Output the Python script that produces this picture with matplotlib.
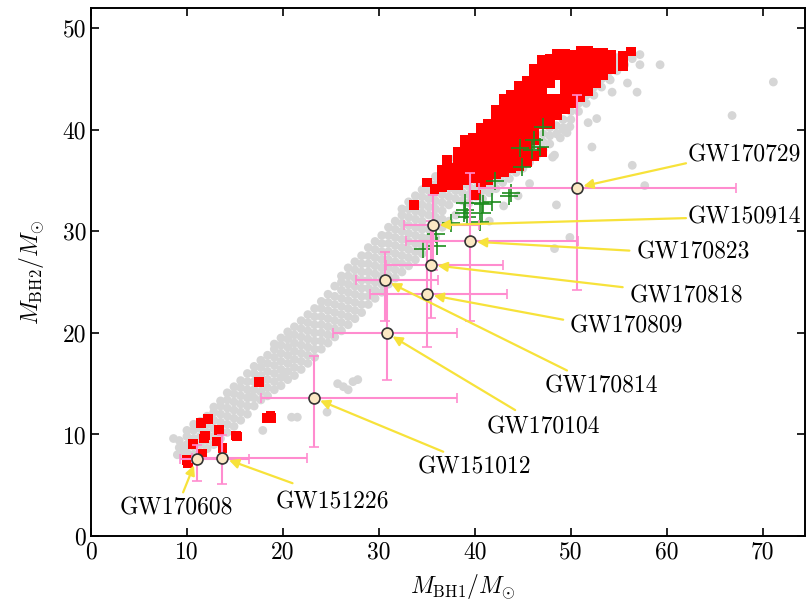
import matplotlib
matplotlib.use("Agg")
import numpy as np
import matplotlib.pyplot as plt

plt.rcParams['font.family'] = 'cmr10'
plt.rcParams['mathtext.fontset'] = 'cm'
plt.rcParams['axes.unicode_minus'] = False

# GWTC-1 events: median masses and 90% intervals
gw_names = ['GW170729', 'GW150914', 'GW170823', 'GW170818', 'GW170809',
            'GW170814', 'GW170104', 'GW151012', 'GW151226', 'GW170608']
gw_m1 = [50.6, 35.6, 39.5, 35.4, 35.0, 30.6, 30.8, 23.2, 13.7, 11.0]
gw_m1_lo = [10.2, 3.0, 6.7, 4.7, 5.9, 3.0, 5.6, 5.5, 3.2, 1.7]
gw_m1_hi = [16.6, 4.8, 11.2, 7.5, 8.3, 5.6, 7.3, 14.9, 8.8, 5.5]
gw_m2 = [34.3, 30.6, 29.0, 26.7, 23.8, 25.2, 20.0, 13.6, 7.7, 7.6]
gw_m2_lo = [10.1, 4.4, 7.8, 5.2, 5.2, 4.0, 4.6, 4.8, 2.6, 2.2]
gw_m2_hi = [9.1, 3.0, 6.7, 4.3, 5.1, 2.8, 4.9, 4.1, 2.2, 1.4]

# label placement (text anchor, arrow tail)
label_xy = [(62.2, 37.5), (62.2, 31.4), (56.9, 27.9), (56.1, 23.6), (49.9, 20.6),
            (47.3, 14.7), (41.2, 10.7), (34.0, 6.8), (19.2, 3.3), (3.0, 2.7)]
tail_xy = [(62.0, 36.7), (62.0, 31.3), (56.1, 28.1), (55.4, 24.5), (49.2, 21.3),
           (49.6, 16.3), (44.2, 12.4), (36.7, 8.3), (21.0, 5.2), (9.6, 4.3)]

# simulated population (grey)
grey_pts = [
    (9.2, 8.7), (9.2, 9.4), (9.6, 8.1),
    (10.0, 8.2), (10.0, 9.0), (10.0, 9.8), (10.0, 10.4),
    (10.7, 8.0), (10.7, 8.8), (10.7, 9.6), (10.7, 10.4), (10.7, 11.0),
    (11.4, 8.2), (11.4, 9.0), (11.4, 9.8), (11.4, 10.6), (11.4, 11.3),
    (12.1, 8.6), (12.1, 9.4), (12.1, 10.2), (12.1, 11.0), (12.1, 11.8),
    (12.8, 9.0), (12.8, 9.8), (12.8, 10.6), (12.8, 11.4), (12.8, 12.2), (12.8, 12.7),
    (13.5, 9.6), (13.5, 10.4), (13.5, 11.2), (13.5, 12.0), (13.5, 12.8), (13.5, 13.3),
    (14.2, 10.2), (14.2, 11.0), (14.2, 11.8), (14.2, 12.6), (14.2, 13.4), (14.2, 14.1),
    (14.9, 10.8), (14.9, 11.6), (14.9, 12.4), (14.9, 13.2), (14.9, 14.0), (14.9, 14.7),
    (15.6, 11.4), (15.6, 12.2), (15.6, 13.0), (15.6, 13.8), (15.6, 14.6), (15.6, 15.3),
    (16.3, 12.0), (16.3, 12.8), (16.3, 13.6), (16.3, 14.4), (16.3, 15.2), (16.3, 16.0),
    (17.0, 12.8), (17.0, 13.6), (17.0, 14.4), (17.0, 15.2), (17.0, 16.0), (17.0, 16.7),
    (17.7, 13.4), (17.7, 14.2), (17.7, 15.0), (17.7, 15.8), (17.7, 16.6), (17.7, 17.3),
    (18.4, 13.8), (18.4, 14.6), (18.4, 15.4), (18.4, 16.2), (18.4, 17.0), (18.4, 17.8),
    (19.1, 14.4), (19.1, 15.2), (19.1, 16.0), (19.1, 16.8), (19.1, 17.6), (19.1, 18.4), (19.1, 18.9),
    (19.8, 14.8), (19.8, 15.6), (19.8, 16.4), (19.8, 17.2), (19.8, 18.0), (19.8, 18.8), (19.8, 19.5),
    (20.5, 15.4), (20.5, 16.2), (20.5, 17.0), (20.5, 17.8), (20.5, 18.6), (20.5, 19.4), (20.5, 20.1),
    (21.2, 15.8), (21.2, 16.6), (21.2, 17.4), (21.2, 18.2), (21.2, 19.0), (21.2, 19.8), (21.2, 20.6),
    (21.9, 16.4), (21.9, 17.2), (21.9, 18.0), (21.9, 18.8), (21.9, 19.6), (21.9, 20.4), (21.9, 21.2),
    (22.6, 17.0), (22.6, 17.8), (22.6, 18.6), (22.6, 19.4), (22.6, 20.2), (22.6, 21.0), (22.6, 21.8),
    (23.3, 17.6), (23.3, 18.4), (23.3, 19.2), (23.3, 20.0), (23.3, 20.8), (23.3, 21.6), (23.3, 22.4),
    (24.0, 18.4), (24.0, 19.2), (24.0, 20.0), (24.0, 20.8), (24.0, 21.6), (24.0, 22.4), (24.0, 23.1),
    (24.7, 19.0), (24.7, 19.8), (24.7, 20.6), (24.7, 21.4), (24.7, 22.2), (24.7, 23.0), (24.7, 23.8),
    (25.4, 19.6), (25.4, 20.4), (25.4, 21.2), (25.4, 22.0), (25.4, 22.8), (25.4, 23.6), (25.4, 24.6),
    (26.1, 20.2), (26.1, 21.0), (26.1, 21.8), (26.1, 22.6), (26.1, 23.4), (26.1, 24.2), (26.1, 25.0), (26.1, 25.6),
    (26.8, 20.8), (26.8, 21.6), (26.8, 22.4), (26.8, 23.2), (26.8, 24.0), (26.8, 24.8), (26.8, 25.6), (26.8, 26.4),
    (27.5, 21.4), (27.5, 22.2), (27.5, 23.0), (27.5, 23.8), (27.5, 24.6), (27.5, 25.4), (27.5, 26.2), (27.5, 27.0),
    (28.2, 22.0), (28.2, 22.8), (28.2, 23.6), (28.2, 24.4), (28.2, 25.2), (28.2, 26.0), (28.2, 26.8), (28.2, 27.6),
    (28.9, 22.8), (28.9, 23.6), (28.9, 24.4), (28.9, 25.2), (28.9, 26.0), (28.9, 26.8), (28.9, 27.6), (28.9, 28.4),
    (29.6, 23.4), (29.6, 24.2), (29.6, 25.0), (29.6, 25.8), (29.6, 26.6), (29.6, 27.4), (29.6, 28.2), (29.6, 29.0),
    (30.3, 24.0), (30.3, 24.8), (30.3, 25.6), (30.3, 26.4), (30.3, 27.2), (30.3, 28.0), (30.3, 28.8), (30.3, 29.6),
    (31.0, 24.8), (31.0, 25.6), (31.0, 26.4), (31.0, 27.2), (31.0, 28.0), (31.0, 28.8), (31.0, 29.6), (31.0, 30.4),
    (31.7, 25.4), (31.7, 26.2), (31.7, 27.0), (31.7, 27.8), (31.7, 28.6), (31.7, 29.4), (31.7, 30.2), (31.7, 31.0),
    (32.4, 26.0), (32.4, 26.8), (32.4, 27.6), (32.4, 28.4), (32.4, 29.2), (32.4, 30.0), (32.4, 30.8), (32.4, 31.6), (32.4, 32.2),
    (33.1, 26.6), (33.1, 27.4), (33.1, 28.2), (33.1, 29.0), (33.1, 29.8), (33.1, 30.6), (33.1, 31.4), (33.1, 32.2), (33.1, 32.9),
    (33.8, 27.2), (33.8, 28.0), (33.8, 28.8), (33.8, 29.6), (33.8, 30.4), (33.8, 31.2), (33.8, 32.0), (33.8, 32.8), (33.8, 33.5),
    (34.5, 27.8), (34.5, 28.6), (34.5, 29.4), (34.5, 30.2), (34.5, 31.0), (34.5, 31.8), (34.5, 32.6), (34.5, 33.4), (34.5, 34.1),
    (35.2, 28.6), (35.2, 29.4), (35.2, 30.2), (35.2, 31.6), (35.2, 32.4), (35.2, 33.2), (35.2, 34.0), (35.2, 34.8),
    (35.9, 29.4), (35.9, 30.6), (35.9, 31.4), (35.9, 32.2), (35.9, 33.0), (35.9, 33.8), (35.9, 34.6), (35.9, 35.4),
    (36.6, 30.4), (36.6, 31.2), (36.6, 32.0), (36.6, 32.8), (36.6, 33.6), (36.6, 34.4), (36.6, 35.2), (36.6, 36.0),
    (37.3, 31.0), (37.3, 32.6), (37.3, 33.4), (37.3, 34.2), (37.3, 35.0), (37.3, 35.8), (37.3, 36.6),
    (38.0, 31.6), (38.0, 33.2), (38.0, 34.0), (38.0, 34.8), (38.0, 35.6), (38.0, 36.4), (38.0, 37.2),
    (38.7, 33.0), (38.7, 33.8), (38.7, 34.6), (38.7, 35.4), (38.7, 36.2), (38.7, 37.0), (38.7, 37.8),
    (39.4, 32.8), (39.4, 33.6), (39.4, 34.4), (39.4, 36.0), (39.4, 37.6), (39.4, 38.4),
    (40.1, 33.4), (40.1, 34.2), (40.1, 35.0), (40.1, 38.2), (40.1, 39.0),
    (40.8, 33.2), (40.8, 34.0), (40.8, 34.8), (40.8, 39.6),
    (41.5, 33.8), (41.5, 34.6), (41.5, 35.4), (41.5, 40.4),
    (42.2, 34.2), (42.2, 35.0), (42.2, 35.8), (42.2, 41.0),
    (42.9, 34.8), (42.9, 35.6), (42.9, 36.4), (42.9, 41.8),
    (43.6, 35.2), (43.6, 36.0), (43.6, 36.8),
    (44.3, 35.8), (44.3, 36.6), (44.3, 37.4),
    (45.0, 36.2), (45.0, 37.0), (45.0, 37.8),
    (45.7, 36.8), (45.7, 37.6), (45.7, 38.4),
    (46.4, 37.4), (46.4, 38.2), (46.4, 39.0),
    (47.1, 38.0), (47.1, 38.8), (47.1, 39.6),
    (47.8, 38.6), (47.8, 39.4), (47.8, 40.2),
    (48.5, 39.6), (48.5, 40.4), (49.2, 40.2), (49.2, 41.0),
    (50.0, 41.0), (50.0, 41.8), (50.8, 41.8), (50.8, 42.6),
    (51.6, 42.6), (51.6, 43.4), (52.4, 43.4), (52.4, 44.2),
    (53.2, 44.2), (53.2, 45.0), (54.0, 45.0), (54.0, 45.8),
    (54.8, 45.8), (54.8, 46.6), (55.6, 46.4), (55.6, 47.2), (56.4, 47.0),
    # scattered outliers
    (57.2, 46.4), (59.3, 46.4), (57.2, 47.4), (54.8, 47.1), (54.3, 45.9),
    (55.9, 44.6), (56.9, 43.7), (54.3, 43.7), (54.1, 44.9), (52.7, 41.1),
    (51.8, 40.7), (49.9, 40.3), (49.2, 40.0), (52.2, 38.3), (56.4, 36.5),
    (48.9, 39.2), (48.1, 37.3), (57.7, 34.5), (49.9, 29.4), (48.3, 28.3),
    (66.8, 41.4), (71.1, 44.7), (49.6, 39.7), (48.3, 37.5), (48.5, 32.6),
    (45.7, 34.7), (43.0, 32.5), (44.5, 33.5), (41.5, 31.0),
    (24.6, 12.2), (20.9, 11.7), (21.5, 11.7), (17.9, 10.4), (16.6, 13.7),
    (20.1, 16.1), (25.7, 15.0), (26.3, 14.7), (27.3, 15.2), (26.8, 14.4),
    (27.8, 15.4), (9.8, 8.8), (9.0, 8.0), (8.6, 9.6),
]

# selected population (red)
red_pts = [
    (10.0, 7.5), (10.1, 7.2), (10.6, 9.1), (11.6, 8.1), (11.5, 11.1),
    (12.2, 11.5), (11.9, 9.9), (11.8, 9.6), (13.3, 10.4), (13.1, 9.3),
    (13.7, 8.7), (15.1, 9.9), (15.2, 9.8), (17.5, 15.2), (18.3, 11.6),
    (18.8, 11.6), (18.7, 11.8),
    (33.7, 32.6), (35.0, 34.8), (37.1, 37.0), (40.1, 33.6),
    (35.8, 34.2), (36.6, 34.4), (36.6, 35.2), (36.6, 36.0),
    (37.4, 34.6), (37.4, 35.4), (37.4, 36.2),
    (38.2, 34.6), (38.2, 35.4), (38.2, 36.2), (38.2, 37.0), (38.2, 37.8),
    (39.0, 35.0), (39.0, 35.8), (39.0, 36.6), (39.0, 37.4), (39.0, 38.2), (39.0, 39.0),
    (39.8, 35.2), (39.8, 36.0), (39.8, 36.8), (39.8, 37.6), (39.8, 38.4), (39.8, 39.2),
    (40.6, 34.8), (40.6, 35.6), (40.6, 36.4), (40.6, 37.2), (40.6, 38.0), (40.6, 38.8), (40.6, 39.6), (40.6, 40.2),
    (41.4, 35.0), (41.4, 35.8), (41.4, 36.6), (41.4, 37.4), (41.4, 38.2), (41.4, 39.0), (41.4, 39.8), (41.4, 40.6),
    (42.2, 35.6), (42.2, 36.4), (42.2, 37.2), (42.2, 38.0), (42.2, 38.8), (42.2, 39.6), (42.2, 40.4), (42.2, 41.2), (42.2, 42.0),
    (43.0, 35.8), (43.0, 36.6), (43.0, 37.4), (43.0, 38.2), (43.0, 39.0), (43.0, 39.8), (43.0, 40.6), (43.0, 41.4), (43.0, 42.2), (43.0, 43.0),
    (43.8, 36.2), (43.8, 37.0), (43.8, 37.8), (43.8, 38.6), (43.8, 39.4), (43.8, 40.2), (43.8, 41.0), (43.8, 41.8), (43.8, 42.6), (43.8, 43.4),
    (44.6, 36.4), (44.6, 37.2), (44.6, 38.0), (44.6, 38.8), (44.6, 39.6), (44.6, 40.4), (44.6, 41.2), (44.6, 42.0), (44.6, 42.8), (44.6, 43.6), (44.6, 44.3),
    (45.4, 36.8), (45.4, 37.6), (45.4, 38.4), (45.4, 39.2), (45.4, 40.0), (45.4, 40.8), (45.4, 41.6), (45.4, 42.4), (45.4, 43.2), (45.4, 44.0), (45.4, 44.8),
    (46.2, 37.4), (46.2, 39.0), (46.2, 39.8), (46.2, 40.6), (46.2, 41.4), (46.2, 42.2), (46.2, 43.0), (46.2, 43.8), (46.2, 44.6), (46.2, 45.4), (46.2, 46.0),
    (47.0, 37.8), (47.0, 40.6), (47.0, 41.4), (47.0, 42.2), (47.0, 43.0), (47.0, 43.8), (47.0, 44.6), (47.0, 45.4), (47.0, 46.2), (47.0, 46.9),
    (47.8, 40.6), (47.8, 41.4), (47.8, 42.2), (47.8, 43.0), (47.8, 44.6), (47.8, 45.4), (47.8, 46.2), (47.8, 47.0),
    (48.6, 41.4), (48.6, 42.2), (48.6, 43.0), (48.6, 45.4), (48.6, 46.2), (48.6, 47.0), (48.6, 47.5),
    (49.4, 42.0), (49.4, 42.8), (49.4, 43.6), (49.4, 44.4), (49.4, 45.2), (49.4, 46.0), (49.4, 46.8), (49.4, 47.5),
    (50.2, 42.6), (50.2, 43.4), (50.2, 44.2), (50.2, 45.0), (50.2, 45.8), (50.2, 46.6), (50.2, 47.4),
    (51.0, 43.2), (51.0, 44.0), (51.0, 44.8), (51.0, 45.6), (51.0, 46.4), (51.0, 47.2), (51.0, 47.8),
    (51.8, 43.8), (51.8, 44.6), (51.8, 45.4), (51.8, 46.2), (51.8, 47.0), (51.8, 47.8),
    (52.6, 44.6), (52.6, 45.4), (52.6, 46.2), (52.6, 47.0), (52.6, 47.6),
    (53.4, 45.4), (53.4, 46.2), (53.4, 47.0), (53.4, 47.6),
    (54.2, 46.0), (54.2, 46.8), (54.2, 47.4),
    (55.4, 46.3), (55.4, 47.3), (56.3, 47.7),
]

# selected population (green)
green_pts = [
    (47.1, 40.3), (46.2, 39.0), (46.8, 38.3), (44.7, 38.2), (46.0, 38.0),
    (44.9, 36.3), (42.1, 35.0), (43.8, 33.8), (43.6, 33.5), (41.8, 32.9),
    (40.8, 32.7), (39.0, 32.8), (39.0, 32.1), (39.2, 31.4), (40.7, 31.8),
    (40.5, 30.9), (37.5, 30.8), (36.0, 29.7), (34.6, 28.3), (36.1, 28.6),
    (38.9, 31.8), (40.5, 32.8),
]

grey = np.array(grey_pts)
red = np.array(red_pts)
green = np.array(green_pts)

fig, ax = plt.subplots(figsize=(8.08, 6.05), dpi=100)
fig.subplots_adjust(left=0.1126, right=0.9963, bottom=0.114, top=0.987)

ax.scatter(grey[:, 0], grey[:, 1], s=40, c='#d6d6d6', edgecolors='none', zorder=1)
ax.scatter(red[:, 0], red[:, 1], s=50, marker='s', c='#ff0000', edgecolors='none', zorder=2)
ax.scatter(green[:, 0], green[:, 1], s=160, marker='+', c='#1e8c1e', linewidths=1.2, zorder=3)

ax.errorbar(gw_m1, gw_m2, xerr=[gw_m1_lo, gw_m1_hi], yerr=[gw_m2_lo, gw_m2_hi],
            fmt='none', ecolor='#ff8ccf', elinewidth=1.5, capsize=3.5, capthick=1.2, zorder=4)

for i, name in enumerate(gw_names):
    ax.annotate('', xy=(gw_m1[i], gw_m2[i]), xytext=tail_xy[i],
                arrowprops=dict(arrowstyle='-|>', color='#f7e23a', lw=1.6,
                                mutation_scale=14, shrinkA=0, shrinkB=5),
                zorder=5)
    ax.text(label_xy[i][0], label_xy[i][1], name, fontsize=17, ha='left', va='center', zorder=7)

ax.scatter(gw_m1, gw_m2, s=62, c='#fbe8c4', edgecolors='#333333', linewidths=1.2, zorder=6)

ax.set_xlim(0, 74.4)
ax.set_ylim(0, 52)
ax.set_xticks([0, 10, 20, 30, 40, 50, 60, 70])
ax.set_yticks([0, 10, 20, 30, 40, 50])
ax.tick_params(direction='in', length=6, width=1.2, labelsize=17, top=True, right=True)
for sp in ax.spines.values():
    sp.set_linewidth(1.4)

ax.set_xlabel(r'$M_{\rm BH1}/M_{\odot}$', fontsize=17)
ax.set_ylabel(r'$M_{\rm BH2}/M_{\odot}$', fontsize=17, labelpad=12)
ax.xaxis.set_label_coords(0.52, -0.068)

fig.savefig('out.png', dpi=100)
